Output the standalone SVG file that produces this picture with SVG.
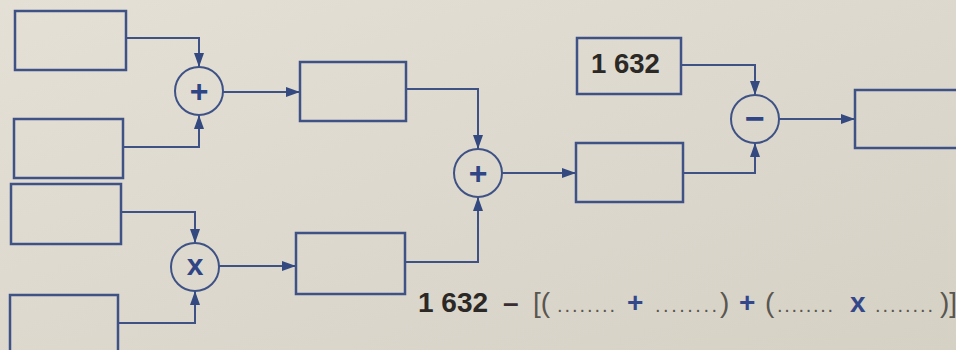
<svg xmlns="http://www.w3.org/2000/svg" width="956" height="350" viewBox="0 0 956 350">
<defs>
<linearGradient id="bg" x1="0" y1="0" x2="1" y2="1">
<stop offset="0" stop-color="#e4e0d6"/>
<stop offset="1" stop-color="#d6d1c5"/>
</linearGradient>
<marker id="ah" markerUnits="userSpaceOnUse" markerWidth="14" markerHeight="10" refX="14" refY="5" orient="auto">
<path d="M0,0 L14,5 L0,10 z" fill="#34497f"/>
</marker>
<style>
.box{fill:none;stroke:#3f5286;stroke-width:2.5}
.op{fill:none;stroke:#3f5286;stroke-width:2}
.con{fill:none;stroke:#3f5286;stroke-width:2;marker-end:url(#ah)}
.sym{font-family:"Liberation Sans",Arial,sans-serif;font-weight:bold;fill:#2f4585;text-anchor:middle}
.num{font-family:"Liberation Sans",Arial,sans-serif;font-weight:bold;fill:#2b2826}
.eq{font-family:"Liberation Sans",Arial,sans-serif}
.dots{fill:#5a5650;font-size:20px}
.br{fill:#5a5650;font-size:28px}
.bl{fill:#33478a;font-weight:bold;font-size:28px}
</style>
</defs>
<rect x="0" y="0" width="956" height="350" fill="url(#bg)"/>

<g id="connectors">
<path class="con" d="M126,38 H199 V67"/>
<path class="con" d="M123,147 H199 V115"/>
<path class="con" d="M223,92 H300"/>
<path class="con" d="M121,212 H195 V243"/>
<path class="con" d="M118,323 H195 V291"/>
<path class="con" d="M219,266 H296"/>
<path class="con" d="M406,89 H478 V149"/>
<path class="con" d="M405,262 H478 V197"/>
<path class="con" d="M502,173 H576"/>
<path class="con" d="M681,65 H755 V95"/>
<path class="con" d="M683,173 H755 V143"/>
<path class="con" d="M779,119 H855"/>
</g>

<g id="boxA"><rect class="box" x="15" y="11" width="111" height="59"/></g>
<g id="boxB"><rect class="box" x="14" y="119" width="109" height="59"/></g>
<g id="boxD"><rect class="box" x="11" y="184" width="110" height="60"/></g>
<g id="boxE"><rect class="box" x="10" y="295" width="108" height="70"/></g>
<g id="boxC"><rect class="box" x="300" y="62" width="106" height="59"/></g>
<g id="boxF"><rect class="box" x="296" y="233" width="109" height="61"/></g>
<g id="box1632"><rect class="box" x="577" y="38" width="104" height="56"/>
<text class="num" x="591" y="73" font-size="27.5">1 632</text></g>
<g id="boxG"><rect class="box" x="576" y="143" width="107" height="59"/></g>
<g id="boxH"><rect class="box" x="855" y="90" width="120" height="58"/></g>

<g id="plus1"><circle class="op" cx="199" cy="91" r="24"/>
<text class="sym" x="199" y="102.3" font-size="32">+</text></g>
<g id="times"><circle class="op" cx="195" cy="267" r="24"/>
<text class="sym" x="195" y="275" font-size="30">x</text></g>
<g id="plus2"><circle class="op" cx="478" cy="173" r="24"/>
<text class="sym" x="478" y="184.3" font-size="32">+</text></g>
<g id="minus"><circle class="op" cx="755" cy="119" r="24"/>
<text class="sym" x="755" y="130" font-size="34">−</text></g>

<g id="equation">
<text class="eq num" x="418" y="312" font-size="28">1 632</text>
<text class="eq" x="503" y="312" font-size="28" font-weight="bold" fill="#3a2d33">–</text>
<text class="eq br" x="533" y="312">[(</text>
<text class="eq dots" x="557" y="312" textLength="58" lengthAdjust="spacing">........</text>
<text class="eq bl" x="627" y="312">+</text>
<text class="eq dots" x="655" y="312" textLength="62" lengthAdjust="spacing">........</text>
<text class="eq br" x="720" y="312">)</text>
<text class="eq bl" x="739" y="312">+</text>
<text class="eq br" x="765" y="312">(</text>
<text class="eq dots" x="777" y="312" textLength="56" lengthAdjust="spacing">........</text>
<text class="eq bl" x="850" y="312">x</text>
<text class="eq dots" x="875" y="312" textLength="58" lengthAdjust="spacing">........</text>
<text class="eq br" x="940" y="312">)]</text>
</g>
</svg>
